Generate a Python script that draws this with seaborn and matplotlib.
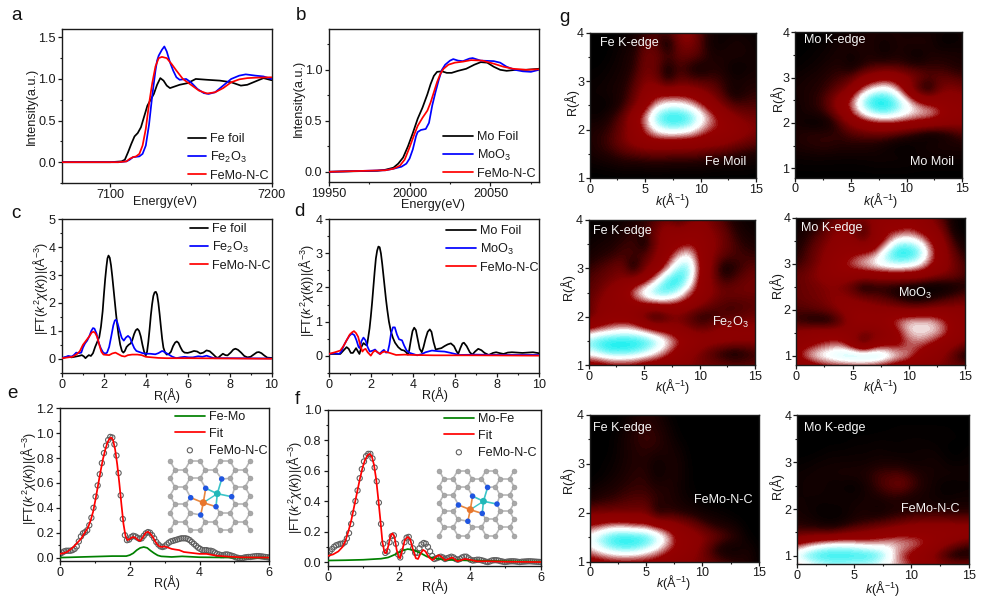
import numpy as np
import matplotlib
matplotlib.use("Agg")
import matplotlib.pyplot as plt
import seaborn as sns
from matplotlib.colors import LinearSegmentedColormap
from matplotlib.ticker import MultipleLocator, FixedLocator

sns.set_theme(style="ticks")
plt.rcParams.update({
    "font.family": ["Liberation Sans", "DejaVu Sans"],
    "mathtext.fontset": "custom",
    "mathtext.rm": "Liberation Sans",
    "mathtext.it": "Liberation Sans:italic",
    "mathtext.bf": "Liberation Sans:bold",
    "axes.linewidth": 1.0,
    "axes.edgecolor": "#1a1a1a",
    "xtick.color": "#1a1a1a",
    "ytick.color": "#1a1a1a",
    "text.color": "#1a1a1a",
    "axes.labelcolor": "#1a1a1a",
})

# ---------- panel a ----------
a_foil_x = [7070, 7100, 7107, 7109, 7111, 7113, 7115, 7117, 7119, 7121, 7123, 7125, 7127, 7129, 7131, 7133, 7135, 7137, 7140, 7143, 7148, 7153, 7160, 7168, 7175, 7178, 7181, 7185, 7190, 7195, 7200]
a_foil_y = [0, 0, .01, .03, .12, .22, .31, .35, .42, .55, .68, .75, .82, .93, 1.01, .98, .92, .89, .91, .93, .95, 1.0, .99, .98, .96, .94, .92, .93, .97, 1.01, .985]
a_fe2o3_x = [7070, 7105, 7110, 7112, 7114, 7118, 7120, 7122, 7124, 7126, 7128, 7129, 7130, 7132, 7133.5, 7135, 7137, 7139, 7141, 7143, 7147, 7150, 7154, 7158, 7161, 7165, 7170, 7175, 7180, 7184, 7190, 7195, 7200]
a_fe2o3_y = [0, 0, .01, .03, .06, .07, .1, .2, .45, .8, 1.1, 1.22, 1.28, 1.35, 1.39, 1.33, 1.2, 1.1, 1.02, .99, 1.0, .96, .88, .83, .82, .84, .92, 1.0, 1.04, 1.055, 1.04, 1.03, 1.0]
a_femo_x = [7070, 7105, 7110, 7112, 7114, 7116, 7118, 7120, 7122, 7124, 7126, 7128, 7130, 7132, 7135, 7138, 7141, 7145, 7150, 7155, 7160, 7165, 7170, 7175, 7180, 7185, 7190, 7200]
a_femo_y = [0, 0, .01, .04, .06, .07, .1, .2, .4, .7, .95, 1.15, 1.25, 1.265, 1.25, 1.18, 1.1, 1.0, .93, .86, .825, .84, .89, .96, .995, 1.01, 1.015, 1.02]

# ---------- panel b ----------
b_foil_x = [19950, 19980, 19985, 19990, 19993, 19996, 19999, 20002, 20005, 20008, 20011, 20013, 20015, 20017, 20020, 20023, 20026, 20030, 20035, 20040, 20044, 20048, 20052, 20056, 20060, 20066, 20072, 20080]
b_foil_y = [0, .01, .02, .04, .08, .14, .25, .38, .52, .63, .76, .86, .94, .98, .985, .97, .97, .99, 1.01, 1.05, 1.075, 1.07, 1.03, 1.0, .99, 1.0, 1.0, 1.01]
b_moo3_x = [19950, 19985, 19990, 19995, 19998, 20000, 20002, 20004, 20005, 20007, 20010, 20012, 20014, 20016, 20018, 20020, 20022, 20025, 20027, 20030, 20033, 20037, 20039, 20044, 20052, 20056, 20060, 20065, 20070, 20075, 20080]
b_moo3_y = [0, .015, .03, .05, .08, .13, .22, .35, .39, .41, .42, .48, .65, .78, .9, 1.0, 1.05, 1.09, 1.105, 1.09, 1.085, 1.11, 1.115, 1.09, 1.085, 1.07, 1.03, 1.0, .985, .98, 1.0]
b_femo_x = [19950, 19985, 19990, 19994, 19997, 20000, 20003, 20005, 20008, 20011, 20013, 20015, 20017, 20019, 20021, 20024, 20028, 20033, 20038, 20045, 20052, 20058, 20064, 20072, 20080]
b_femo_y = [0, .015, .03, .06, .12, .24, .37, .45, .53, .6, .68, .78, .88, .96, 1.01, 1.05, 1.07, 1.08, 1.095, 1.09, 1.06, 1.03, 1.01, 1.0, 1.005]

# ---------- panel c ----------
c_foil_x = [0, .15, .3, .45, .6, .8, .95, 1.05, 1.12, 1.2, 1.28, 1.38, 1.48, 1.58, 1.68, 1.78, 1.86, 1.94, 2.0, 2.06, 2.12, 2.17, 2.22, 2.28, 2.34, 2.4, 2.46, 2.52, 2.58, 2.64, 2.7, 2.78, 2.86, 2.93, 3.0, 3.08, 3.18, 3.28, 3.36, 3.44, 3.52, 3.6, 3.68, 3.76, 3.84, 3.92, 4.0, 4.06, 4.12, 4.18, 4.24, 4.3, 4.36, 4.42, 4.48, 4.54, 4.6, 4.66, 4.72, 4.78, 4.84, 4.92, 5.0, 5.1, 5.2, 5.3, 5.4, 5.48, 5.56, 5.65, 5.75, 5.85, 6.0, 6.15, 6.3, 6.45, 6.6, 6.75, 6.9, 7.05, 7.2, 7.35, 7.45, 7.55, 7.68, 7.8, 7.9, 8.05, 8.18, 8.28, 8.4, 8.55, 8.7, 8.85, 9.0, 9.15, 9.3, 9.4, 9.52, 9.65, 9.8, 10]
c_foil_y = [.02, .05, .08, .05, .07, .1, .13, .08, .02, .08, .13, .1, .2, .42, .6, .78, 1.15, 1.7, 2.3, 2.85, 3.3, 3.6, 3.7, 3.62, 3.35, 2.95, 2.5, 2.05, 1.6, 1.2, .85, .5, .28, .22, .28, .42, .5, .55, .68, .88, 1.02, 1.07, 1.0, .8, .5, .25, .12, .25, .6, 1.05, 1.55, 1.95, 2.25, 2.38, 2.4, 2.3, 2.0, 1.6, 1.15, .72, .4, .22, .15, .17, .25, .45, .58, .62, .57, .42, .28, .22, .21, .24, .28, .26, .19, .22, .3, .27, .17, .06, .03, .1, .18, .13, .12, .22, .33, .36, .32, .22, .1, .05, .07, .15, .23, .24, .2, .12, .04, .03]
c_fe2o3_x = [0, .15, .3, .45, .55, .68, .8, .92, 1.0, 1.1, 1.2, 1.3, 1.4, 1.48, 1.55, 1.65, 1.75, 1.85, 1.95, 2.05, 2.15, 2.25, 2.35, 2.45, 2.52, 2.58, 2.65, 2.75, 2.85, 2.95, 3.05, 3.15, 3.25, 3.35, 3.45, 3.55, 3.7, 3.85, 4.0, 4.2, 4.45, 4.6, 4.78, 4.9, 5.05, 5.25, 5.45, 5.65, 5.85, 6.05, 6.25, 6.5, 6.7, 6.9, 7.05, 7.25, 8, 10]
c_fe2o3_y = [.03, .06, .1, .08, .12, .22, .2, .22, .4, .55, .65, .8, 1.0, 1.1, 1.08, .9, .58, .38, .24, .18, .22, .42, .8, 1.2, 1.37, 1.4, 1.28, 1.0, .75, .65, .76, .82, .75, .55, .38, .28, .24, .2, .18, .18, .16, .2, .28, .24, .17, .08, .02, .05, .07, .05, .05, .09, .07, .11, .07, .02, .02, .01]
c_femo_x = [0, .3, .5, .7, .85, 1.0, 1.15, 1.3, 1.42, 1.5, 1.58, 1.68, 1.78, 1.88, 1.98, 2.1, 2.25, 2.4, 2.55, 2.7, 2.85, 3.0, 3.15, 3.35, 3.6, 3.8, 4.0, 4.3, 4.6, 5, 6, 8, 10]
c_femo_y = [.02, .05, .07, .16, .27, .5, .65, .8, .94, .97, .93, .78, .5, .25, .15, .14, .13, .19, .22, .16, .1, .08, .13, .15, .15, .13, .07, .05, .03, .02, .02, .01, 0]

# ---------- panel d ----------
d_foil_x = [0, .3, .55, .7, .85, .95, 1.05, 1.15, 1.3, 1.38, 1.46, 1.55, 1.65, 1.75, 1.82, 1.88, 1.94, 2.0, 2.06, 2.12, 2.18, 2.24, 2.3, 2.36, 2.42, 2.48, 2.54, 2.6, 2.66, 2.72, 2.78, 2.86, 2.95, 3.05, 3.15, 3.3, 3.45, 3.58, 3.68, 3.76, 3.82, 3.9, 3.98, 4.06, 4.14, 4.22, 4.32, 4.42, 4.5, 4.6, 4.7, 4.8, 4.88, 4.98, 5.08, 5.2, 5.35, 5.5, 5.65, 5.8, 5.95, 6.05, 6.15, 6.25, 6.35, 6.42, 6.55, 6.7, 6.82, 6.95, 7.1, 7.25, 7.4, 7.6, 7.8, 7.95, 8.15, 8.3, 8.5, 8.7, 9.2, 9.7, 10]
d_foil_y = [.05, .05, .05, .15, .25, .2, .08, .08, .22, .13, .05, .25, .37, .32, .3, .55, .8, 1.15, 1.55, 2.0, 2.45, 2.85, 3.08, 3.2, 3.18, 3.0, 2.7, 2.35, 2.0, 1.65, 1.35, 1.0, .72, .52, .38, .25, .17, .15, .1, .03, .15, .45, .72, .82, .75, .5, .2, .1, .25, .5, .7, .77, .7, .4, .18, .2, .22, .28, .33, .36, .28, .15, .05, .22, .36, .38, .28, .1, .03, .12, .2, .16, .08, .02, .08, .1, .07, .05, .09, .1, .08, .1, .07]
d_moo3_x = [0, .3, .5, .6, .72, .85, .98, 1.1, 1.22, 1.32, 1.42, 1.48, 1.55, 1.65, 1.75, 1.85, 1.95, 2.1, 2.2, 2.32, 2.42, 2.52, 2.62, 2.72, 2.8, 2.88, 2.96, 3.05, 3.14, 3.24, 3.34, 3.48, 3.58, 3.7, 3.85, 4.0, 4.2, 4.4, 4.6, 4.9, 5.2, 5.5, 5.8, 6.2, 7, 8, 10]
d_moo3_y = [.05, .07, .05, .12, .3, .45, .58, .65, .6, .45, .25, .22, .42, .53, .45, .25, .12, .15, .18, .1, .05, .12, .17, .09, .1, .32, .65, .83, .83, .62, .48, .45, .3, .15, .08, .05, .01, .04, .1, .15, .13, .12, .08, .02, .03, .02, .02]
d_femo_x = [0, .3, .55, .7, .85, 1.0, 1.1, 1.2, 1.3, 1.4, 1.5, 1.6, 1.68, 1.75, 1.85, 2.0, 2.1, 2.2, 2.32, 2.45, 2.55, 2.65, 2.78, 2.9, 3.2, 3.6, 4, 5, 7, 10]
d_femo_y = [.05, .1, .15, .28, .45, .62, .68, .72, .66, .55, .3, .12, .18, .2, .1, 0, .1, .15, .1, .05, .1, .12, .1, .08, .02, .03, .02, .01, .01, 0]

# ---------- panel e ----------
e_data_y = [.03, .04, .05, .055, .055, .055, .06, .07, .09, .13, .17, .195, .205, .22, .26, .32, .40, .49, .58, .67, .76, .84, .90, .945, .97, .965, .91, .82, .68, .50, .31, .18, .14, .145, .165, .175, .17, .16, .15, .155, .175, .195, .205, .2, .18, .155, .125, .105, .09, .085, .09, .105, .12, .13, .135, .14, .145, .15, .155, .155, .155, .15, .14, .125, .11, .095, .08, .07, .06, .06, .06, .055, .055, .05, .04, .03, .025, .02, .02, .025, .025, .02, .015, .01, .002, -.002, -.005, -.005, 0, .003, .005, .005, .008, .01, .012, .012, .01, .008, .005, .003, 0]
e_data_x = [round(i * .06, 2) for i in range(len(e_data_y))]
e_fit_x = [0, .1, .2, .3, .4, .5, .6, .7, .8, .88, .95, 1.02, 1.09, 1.16, 1.23, 1.3, 1.36, 1.42, 1.47, 1.52, 1.58, 1.64, 1.7, 1.76, 1.82, 1.88, 1.94, 2.0, 2.08, 2.16, 2.24, 2.3, 2.38, 2.46, 2.52, 2.58, 2.66, 2.74, 2.82, 2.9, 3.0, 3.1, 3.2, 3.3, 3.42, 3.55, 3.7, 3.85, 4.0, 4.2, 4.35, 4.5, 4.8, 5.2, 6]
e_fit_y = [.03, .035, .045, .065, .09, .12, .15, .195, .24, .3, .37, .47, .58, .69, .79, .87, .925, .955, .965, .945, .87, .75, .6, .43, .27, .17, .14, .15, .165, .16, .14, .135, .165, .2, .208, .195, .165, .125, .095, .085, .09, .08, .07, .065, .06, .045, .04, .035, .03, .03, .022, .015, .008, .002, 0]
e_path_x = [0, 1, 1.5, 1.9, 2.0, 2.1, 2.2, 2.3, 2.4, 2.5, 2.6, 2.7, 2.8, 2.9, 3.2, 3.5, 4, 5, 6]
e_path_y = [0, .008, .012, .012, .02, .035, .06, .078, .085, .078, .055, .035, .018, .01, .005, .01, .003, 0, 0]

# ---------- panel f ----------
f_data_y = [.05, .07, .085, .1, .11, .115, .12, .12, .13, .155, .19, .25, .32, .4, .47, .55, .61, .66, .695, .71, .71, .68, .62, .53, .39, .25, .12, .06, .07, .13, .17, .175, .12, .05, .03, .07, .13, .16, .165, .13, .09, .06, .06, .09, .115, .125, .12, .1, .07, .04, .02, .025, .03, .035, .03, .02, .025, .03, .035, .03, .02, .015, .02, .03, .035, .035, .025, .015, .01, .012, .015, .015, .012, .008, .003, 0, .004, .01, .012, .012, .01, .006, .003, 0, .002, .004, .005, .005, .004, .002, 0, .002, .003, .004, .005, .005, .004, .003, .002, .001, 0]
f_data_x = [round(i * .06, 2) for i in range(len(f_data_y))]
f_fit_x = [0, .15, .3, .42, .5, .58, .66, .74, .82, .9, .98, 1.05, 1.12, 1.18, 1.24, 1.3, 1.36, 1.42, 1.48, 1.54, 1.6, 1.65, 1.71, 1.77, 1.82, 1.88, 1.94, 2.0, 2.04, 2.1, 2.17, 2.25, 2.32, 2.4, 2.48, 2.54, 2.6, 2.68, 2.75, 2.85, 2.95, 3.05, 3.12, 3.2, 3.3, 3.4, 3.5, 3.65, 3.85, 4, 4.2, 4.5, 5, 6]
f_fit_y = [.04, .05, .07, .1, .14, .2, .27, .36, .45, .54, .62, .67, .7, .71, .695, .64, .55, .42, .28, .13, .06, .06, .11, .175, .188, .165, .08, .03, .025, .08, .145, .165, .15, .08, .025, .02, .05, .08, .07, .03, .012, .035, .045, .035, .012, .02, .03, .005, .02, .015, .005, .005, .002, 0]
f_path_x = [0, .5, 1, 1.5, 1.7, 1.9, 2.1, 2.25, 2.4, 2.6, 2.8, 3, 3.3, 4, 5, 6]
f_path_y = [.01, .012, .015, .022, .03, .05, .075, .085, .08, .06, .035, .025, .015, .01, .005, .002]

# ---------- panel g : intensity read on a coarse k / R grid (rows: R high -> low) ----------
k_grid = [0, 1, 2, 3, 4, 5, 6, 7, 8, 9, 10, 11, 12, 13, 14, 15]
map_fe_foil = [
 [0, 0, 0, .02, .06, .15, .2, .2, .35, .4, .2, .08, .05, .05, .05, .02],
 [0, 0, .02, .05, .1, .25, .22, .02, .3, .35, .2, .05, .05, .1, .08, .05],
 [0, 0, .03, .08, .12, .3, .28, .18, .25, .25, .2, .1, .1, .1, .08, .06],
 [.01, .02, .05, .08, .15, .3, .25, .05, .2, .1, .05, .12, .1, .01, .05, .08],
 [.03, .04, .07, .1, .2, .35, .3, .1, .25, .22, .2, .2, .15, .08, .1, .1],
 [.05, .06, .08, .12, .25, .42, .5, .5, .5, .48, .4, .3, .18, .05, .12, .15],
 [.03, .01, .05, .15, .3, .5, .7, .78, .78, .72, .6, .45, .3, .2, .2, .2],
 [.05, .05, .15, .25, .5, .68, .92, 1, 1, .95, .8, .65, .5, .38, .3, .3],
 [.1, .12, .18, .3, .45, .62, .78, .85, .85, .8, .68, .58, .55, .5, .4, .35],
 [.1, .15, .22, .32, .42, .5, .52, .52, .5, .5, .48, .45, .42, .35, .3, .25],
 [.08, .12, .15, .2, .22, .25, .25, .25, .25, .25, .22, .2, .18, .15, .12, .1],
 [.03, .04, .06, .08, .08, .08, .1, .08, .08, .08, .08, .06, .05, .05, .05, .03],
 [0, 0, 0, 0, 0, 0, 0, 0, 0, 0, 0, 0, 0, 0, 0, 0],
]
map_mo_foil = [
 [0, 0, 0, .02, .05, .05, .08, .1, .1, .1, .08, .08, .08, .05, .05, .05],
 [0, 0, .02, .05, .08, .12, .12, .1, .05, .1, .1, .12, .1, .03, .03, .05],
 [0, .02, .04, .06, .1, .05, .1, .1, .05, .1, .08, .01, .1, .1, .1, .08],
 [.02, .04, .06, .1, .12, .05, .12, .18, .2, .2, .15, .15, .15, .15, .12, .1],
 [.05, .08, .1, .14, .18, .22, .38, .46, .52, .48, .4, .3, .22, .25, .22, .18],
 [.08, .1, .12, .18, .25, .4, .62, .74, .8, .7, .45, .15, .05, .3, .35, .3],
 [.06, .1, .15, .25, .45, .62, .86, 1, 1, .92, .74, .55, .45, .45, .42, .4],
 [.05, .1, .12, .22, .4, .6, .78, .9, .95, .88, .8, .74, .72, .62, .5, .45],
 [.08, .03, .01, .05, .2, .38, .5, .55, .58, .58, .55, .52, .5, .45, .42, .4],
 [.1, .14, .15, .15, .15, .2, .22, .25, .25, .2, .15, .08, .02, .05, .12, .2],
 [.1, .12, .14, .15, .12, .12, .12, .1, .06, .02, .01, .05, .08, .1, .1, .1],
 [.05, .05, .06, .05, .05, .05, .05, .06, .06, .06, .05, .05, .05, .05, .05, .05],
 [.02, .02, .02, .02, .02, .02, .02, .03, .03, .03, .03, .02, .02, .02, .02, .02],
 [0, 0, 0, 0, 0, 0, 0, 0, 0, 0, 0, 0, 0, 0, 0, 0],
]
map_fe_oxide = [
 [.02, .02, .03, .06, .1, .15, .2, .3, .15, .3, .35, .3, .2, .1, .05, .03],
 [.02, .04, .06, .1, .15, .15, .3, .45, .42, .45, .45, .35, .28, .15, .08, .05],
 [.05, .08, .1, .15, .18, .05, .3, .45, .5, .55, .5, .4, .3, .2, .12, .1],
 [.08, .12, .15, .2, .18, .2, .35, .5, .68, .78, .5, .38, .25, .2, .18, .15],
 [.15, .2, .25, .3, .02, .3, .42, .62, .88, .9, .55, .35, .05, .1, .2, .25],
 [.2, .25, .3, .35, .4, .48, .7, .95, 1.0, .85, .5, .35, .15, .2, .28, .3],
 [.22, .3, .42, .5, .68, .85, .95, .95, .85, .65, .48, .38, .3, .3, .3, .3],
 [.25, .38, .42, .45, .5, .55, .6, .6, .55, .48, .38, .28, .2, .18, .2, .22],
 [.22, .4, .45, .45, .4, .22, .05, .2, .3, .2, .1, .12, .2, .2, .25, .28],
 [.55, .6, .65, .7, .68, .6, .5, .45, .4, .32, .25, .32, .4, .4, .4, .4],
 [.9, .98, 1, 1, 1, .98, .9, .78, .62, .55, .48, .45, .45, .42, .4, .4],
 [.8, .88, .95, .95, .92, .85, .75, .62, .48, .4, .3, .18, .08, .03, .08, .15],
 [.45, .45, .5, .5, .5, .45, .45, .42, .4, .35, .3, .3, .28, .25, .25, .25],
]
map_mo_oxide = [
 [.02, .05, .08, .2, .3, .35, .35, .4, .45, .48, .5, .45, .35, .2, .05, .02],
 [.05, .1, .15, .3, .35, .3, .15, .42, .55, .5, .55, .5, .42, .3, .05, .01],
 [.08, .15, .25, .35, .42, .4, .25, .42, .55, .78, .8, .72, .55, .4, .15, .05],
 [.1, .2, .3, .4, .45, .5, .55, .58, .85, 1, 1, .92, .65, .45, .25, .1],
 [.15, .22, .32, .45, .55, .65, .72, .8, .85, .88, .85, .78, .6, .45, .3, .18],
 [.25, .3, .38, .45, .5, .48, .48, .48, .5, .5, .5, .48, .4, .35, .3, .2],
 [.25, .28, .3, .35, .3, .2, .02, .1, .1, .08, .05, .02, 0, 0, .05, .1],
 [.25, .28, .3, .35, .4, .35, .3, .25, .2, .12, .05, .04, .08, .15, .2, .25],
 [.2, .22, .25, .3, .4, .45, .45, .42, .4, .38, .35, .35, .38, .4, .4, .4],
 [.15, .08, .05, .05, .2, .45, .5, .5, .55, .65, .72, .72, .72, .62, .5, .4],
 [.4, .45, .48, .48, .45, .4, .3, .3, .4, .52, .7, .74, .72, .66, .5, .42],
 [.45, .5, .55, .6, .62, .42, .15, .42, .5, .5, .6, .62, .55, .45, .4, .3],
 [.55, .7, .8, .85, .92, .98, 1, .98, .88, .75, .68, .5, .42, .38, .2, .05],
 [.35, .4, .45, .5, .5, .5, .5, .48, .45, .42, .4, .35, .35, .3, .3, .3],
]
map_fe_femo = [
 [0, 0, 0, .02, .08, .12, .1, .02, 0, 0, 0, 0, 0, 0, 0, 0],
 [0, 0, 0, .05, .12, .15, .12, .06, 0, 0, 0, 0, 0, 0, 0, 0],
 [0, 0, .02, .08, .14, .18, .15, .08, .02, 0, 0, 0, 0, 0, 0, 0],
 [0, 0, .02, .08, .12, .14, .12, .1, .06, 0, 0, 0, 0, 0, 0, 0],
 [0, .01, .04, .08, .12, .12, .03, .1, .08, .01, 0, 0, 0, 0, 0, 0],
 [0, .02, .06, .1, .14, .14, .04, .1, .08, .01, 0, 0, 0, 0, 0, 0],
 [.04, .08, .1, .14, .16, .16, .12, .12, .06, .02, 0, 0, 0, 0, 0, 0],
 [.1, .14, .16, .2, .22, .22, .14, .12, .08, .04, .01, 0, 0, 0, 0, 0],
 [.3, .3, .3, .3, .3, .3, .08, .15, .12, .1, .06, .05, .02, 0, 0, 0],
 [.55, .6, .65, .65, .6, .6, .5, .45, .38, .3, .2, .12, .1, .06, 0, 0],
 [.8, .9, .98, 1, 1, .98, .88, .72, .5, .45, .38, .3, .22, .15, .03, 0],
 [.7, .8, .88, .92, .9, .82, .72, .6, .5, .42, .3, .12, .02, .03, .1, .02],
 [.45, .48, .5, .5, .5, .5, .48, .42, .38, .35, .3, .25, .2, .15, .12, .02],
]
map_mo_femo = [
 [0, 0, 0, 0, 0, 0, 0, 0, 0, 0, 0, 0, 0, 0, 0, 0],
 [0, 0, 0, 0, 0, 0, 0, 0, .01, .02, .02, .02, .02, .02, .01, 0],
 [0, 0, 0, 0, 0, .02, .02, .03, .03, .03, .03, .03, .02, .02, .02, .01],
 [0, 0, .01, .03, .03, .04, .04, .05, .04, .03, .05, .05, .05, .01, 0, .02],
 [.02, .03, .05, .06, .06, .06, .06, .08, .08, .08, .04, .06, .08, .04, .02, .05],
 [.05, .06, .08, .08, .1, .1, .12, .18, .2, .2, .16, .1, .08, .08, .08, .06],
 [.05, .08, .08, .04, .04, .02, .08, .18, .24, .3, .2, .12, .06, .02, .02, .04],
 [.06, .06, .06, .06, .06, .05, .08, .1, .14, .12, .1, .08, .06, .04, .06, .06],
 [.08, .06, .03, .04, .04, .08, .1, .04, .08, .1, .08, .1, .1, .1, .1, .1],
 [.1, .08, .04, .02, .04, .1, .12, .15, .18, .22, .28, .3, .3, .3, .28, .28],
 [.2, .2, .2, .18, .25, .3, .35, .4, .45, .5, .5, .5, .5, .5, .5, .5],
 [.55, .65, .72, .78, .78, .75, .7, .7, .72, .7, .68, .62, .5, .4, .3, .2],
 [.85, .95, 1, 1, 1, 1, 1, .95, .82, .6, .5, .42, .3, .12, .02, .05],
 [.6, .7, .75, .8, .8, .78, .78, .75, .7, .68, .6, .5, .42, .4, .4, .4],
]

# ---------- labels ----------
lab_a = ["Fe foil", "Fe$_2$O$_3$", "FeMo-N-C"]
lab_b = ["Mo Foil", "MoO$_3$", "FeMo-N-C"]
lab_e = ["Fe-Mo", "Fit", "FeMo-N-C"]
lab_f = ["Mo-Fe", "Fit", "FeMo-N-C"]
ft_label = r"|FT($k^2\chi(k)$)|(Å$^{-3}$)"
k_label = r"$k$(Å$^{-1}$)"
r_label = "R(Å)"

# ---------- schematic inset : atoms of the model (units of one bond length) ----------
lat_rows_even = [0, 2, 3, 5, 6, 8]
lat_rows_odd = [.5, 1.5, 3.5, 4.5, 6.5, 7.5]
n_sites = [(5.17, 1.8), (3.57, 2.73), (2.07, 3.67), (6.17, 3.57), (4.6, 4.57), (3.07, 5.4)]
fe_site = (3.33, 4.17)
mo_site = (4.73, 3.27)
fe_bonds = [1, 2, 4, 5]
mo_bonds = [0, 1, 3, 4]

W, H = 985, 606
fs = 9.1
fig = plt.figure(figsize=(W / 100, H / 100), dpi=100, facecolor="white")
over = fig.add_axes([0, 0, 1, 1], zorder=20)
over.set_xlim(0, W); over.set_ylim(H, 0); over.axis("off")
px = over.transData


def make_ax(x0, x1, y0, y1):
    ax = fig.add_axes([x0 / W, 1 - y1 / H, (x1 - x0) / W, (y1 - y0) / H])
    ax.tick_params(which="major", direction="out", length=3, width=.9, labelsize=fs, pad=1.5)
    ax.tick_params(which="minor", direction="out", length=1.7, width=.8)
    return ax


def label(ax, xl, xc, yl, yc):
    ax.set_xlabel(xl, fontsize=fs, ha="center", va="center")
    ax.set_ylabel(yl, fontsize=fs, ha="center", va="center")
    ax.xaxis.set_label_coords(xc[0], xc[1], transform=px)
    ax.yaxis.set_label_coords(yc[0], yc[1], transform=px)


def curve(ax, x, y, c, lab, lw=1.25):
    sns.lineplot(x=x, y=y, ax=ax, color=c, label=lab, lw=lw, estimator=None, sort=False, errorbar=None, zorder=3)


def legend(ax, x, y, hl):
    leg = ax.legend(loc="upper left", bbox_to_anchor=(x, y), bbox_transform=px, frameon=False, fontsize=fs,
                    borderaxespad=0, borderpad=0, handlelength=hl, handletextpad=.35, labelspacing=.38)
    return leg


# a
ax = make_ax(62, 271.5, 29, 183)
curve(ax, a_foil_x, a_foil_y, "black", lab_a[0])
curve(ax, a_fe2o3_x, a_fe2o3_y, "#0000ff", lab_a[1])
curve(ax, a_femo_x, a_femo_y, "#ff0000", lab_a[2])
ax.set_xlim(7070, 7200); ax.set_ylim(-.25, 1.6)
ax.xaxis.set_major_locator(FixedLocator([7100, 7200])); ax.xaxis.set_minor_locator(MultipleLocator(50))
ax.yaxis.set_major_locator(FixedLocator([0, .5, 1, 1.5])); ax.yaxis.set_minor_locator(MultipleLocator(.25))
label(ax, "Energy(eV)", (165, 202), "Intensity(a.u.)", (32, 106))
legend(ax, 188, 133, 1.4)

# b
ax = make_ax(328.7, 539, 29, 182)
curve(ax, b_foil_x, b_foil_y, "black", lab_b[0])
curve(ax, b_moo3_x, b_moo3_y, "#0000ff", lab_b[1])
curve(ax, b_femo_x, b_femo_y, "#ff0000", lab_b[2])
ax.set_xlim(19950, 20080); ax.set_ylim(-.1, 1.4)
ax.xaxis.set_major_locator(FixedLocator([19950, 20000, 20050])); ax.xaxis.set_minor_locator(MultipleLocator(25))
ax.yaxis.set_major_locator(FixedLocator([0, .5, 1])); ax.yaxis.set_minor_locator(MultipleLocator(.25))
label(ax, "Energy(eV)", (433, 205), "Intensity(a.u.)", (299, 98))
legend(ax, 443, 131, 2.35)

# c
ax = make_ax(62, 271.5, 219.3, 372.7)
curve(ax, c_foil_x, c_foil_y, "black", lab_a[0])
curve(ax, c_fe2o3_x, c_fe2o3_y, "#0000ff", lab_a[1])
curve(ax, c_femo_x, c_femo_y, "#ff0000", lab_a[2])
ax.set_xlim(0, 10); ax.set_ylim(-.5, 5)
ax.xaxis.set_major_locator(MultipleLocator(2)); ax.xaxis.set_minor_locator(MultipleLocator(1))
ax.yaxis.set_major_locator(FixedLocator([0, 1, 2, 3, 4, 5])); ax.yaxis.set_minor_locator(MultipleLocator(.5))
label(ax, r_label, (167, 396), ft_label, (41, 288))
legend(ax, 190, 223, 1.4)

# d
ax = make_ax(328.7, 539.3, 219.3, 372.7)
curve(ax, d_foil_x, d_foil_y, "black", lab_b[0])
curve(ax, d_moo3_x, d_moo3_y, "#0000ff", lab_b[1])
curve(ax, d_femo_x, d_femo_y, "#ff0000", lab_b[2])
ax.set_xlim(0, 10); ax.set_ylim(-.5, 4)
ax.xaxis.set_major_locator(MultipleLocator(2)); ax.xaxis.set_minor_locator(MultipleLocator(1))
ax.yaxis.set_major_locator(FixedLocator([0, 1, 2, 3, 4])); ax.yaxis.set_minor_locator(MultipleLocator(.5))
label(ax, r_label, (435, 395), ft_label, (306, 290))
legend(ax, 446, 225, 2.35)


def fit_panel(ax, dx, dy, fx, fy, gx, gy, labs):
    curve(ax, gx, gy, "#008000", labs[0])
    curve(ax, fx, fy, "#ff0000", labs[1])
    sns.scatterplot(x=dx, y=dy, ax=ax, label=labs[2], s=14, facecolor="none", edgecolor="#5f5f5f", linewidth=.8, zorder=2)
    ax.set_xlim(0, 6)
    ax.xaxis.set_major_locator(FixedLocator([0, 2, 4, 6])); ax.xaxis.set_minor_locator(MultipleLocator(1))
    ax.yaxis.set_minor_locator(MultipleLocator(.1))


# e
ax = make_ax(60, 269.3, 408.3, 560.7)
fit_panel(ax, e_data_x, e_data_y, e_fit_x, e_fit_y, e_path_x, e_path_y, lab_e)
ax.set_ylim(-.025, 1.2)
ax.yaxis.set_major_locator(FixedLocator([0, .2, .4, .6, .8, 1.0, 1.2]))
label(ax, r_label, (167, 583), ft_label, (28, 478))
leg = legend(ax, 175, 411, 2.35)

# f
ax = make_ax(327.7, 541, 409.7, 566)
fit_panel(ax, f_data_x, f_data_y, f_fit_x, f_fit_y, f_path_x, f_path_y, lab_f)
ax.set_ylim(-.026, 1.0)
ax.yaxis.set_major_locator(FixedLocator([0, .2, .4, .6, .8, 1.0]))
label(ax, r_label, (435, 587), ft_label, (295, 487))
legend(ax, 444, 413, 2.35)


# molecular model insets
def model(x0, y0, a):
    rows = []
    for i in range(9):
        xs = lat_rows_even if i % 2 == 0 else lat_rows_odd
        for x in xs:
            rows.append((x, i * .866))
    P = np.array(rows) * a + (x0, y0)
    ns = np.array(n_sites) * a + (x0, y0)
    fe = np.array(fe_site) * a + (x0, y0)
    mo = np.array(mo_site) * a + (x0, y0)
    keep = (np.linalg.norm(P - fe, axis=1) > 1.1 * a) & (np.linalg.norm(P - mo, axis=1) > .8 * a)
    for n in ns:
        keep &= np.linalg.norm(P - n, axis=1) > .6 * a
    Pk = P[keep]
    All = np.vstack([Pk, ns])
    for i in range(len(All)):
        for j in range(i + 1, len(All)):
            if np.linalg.norm(All[i] - All[j]) < 1.22 * a:
                over.plot([All[i, 0], All[j, 0]], [All[i, 1], All[j, 1]], color="#b8b8b8", lw=1.2, zorder=1)
    for idx in fe_bonds:
        over.plot([ns[idx, 0], fe[0]], [ns[idx, 1], fe[1]], color="#e8873f", lw=1.2, zorder=2)
    for idx in mo_bonds:
        over.plot([ns[idx, 0], mo[0]], [ns[idx, 1], mo[1]], color="#3cc4c8", lw=1.2, zorder=2)
    over.plot([fe[0], mo[0]], [fe[1], mo[1]], color="#3cc4c8", lw=1.0, zorder=2)
    over.scatter(Pk[:, 0], Pk[:, 1], s=13, color="#a8a8a8", edgecolor="#909090", linewidth=.3, zorder=3)
    over.scatter(ns[:, 0], ns[:, 1], s=16, color="#1f55e0", edgecolor="none", zorder=4)
    over.scatter([fe[0]], [fe[1]], s=26, color="#e8762c", edgecolor="none", zorder=4)
    over.scatter([mo[0]], [mo[1]], s=24, color="#20b8b8", edgecolor="none", zorder=4)


model(170, 461, 10.0)
model(439, 470.5, 9.4)

# heat maps
heat_cmap = LinearSegmentedColormap.from_list(
    "exafs_wt",
    [(0, "#000000"), (.12, "#220000"), (.22, "#580000"), (.36, "#8a0000"), (.56, "#960000"),
     (.74, "#ffffff"), (.8, "#ecffff"), (.98, "#19f0f0"), (1, "#19f0f0")],
    N=64,
)


def wt(ax, grid, bottom):
    Z = np.array(grid, dtype=float)
    r_low = 4 - .25 * (Z.shape[0] - 1)
    ax.imshow(Z, cmap=heat_cmap, vmin=0, vmax=1, interpolation="bicubic", interpolation_stage="data", aspect="auto",
              extent=(k_grid[0] - .5, k_grid[-1] + .5, r_low - .125, 4.125))
    ax.set_xlim(0, 15); ax.set_ylim(bottom, 4)
    ax.xaxis.set_major_locator(FixedLocator([0, 5, 10, 15])); ax.xaxis.set_minor_locator(MultipleLocator(2.5))
    ax.yaxis.set_major_locator(FixedLocator([1, 2, 3, 4])); ax.yaxis.set_minor_locator(MultipleLocator(.5))
    ax.tick_params(which="major", pad=1)


panels = [
    ((589.7, 756, 32.7, 178), map_fe_foil, 1, (672, 200), (572, 102), "Fe K-edge", (629, 43), "Fe Moil", (726, 162)),
    ((795, 962.3, 32.3, 177.7), map_mo_foil, .79, (880, 200), (778, 98), "Mo K-edge", (835, 40), "Mo Moil", (932, 162)),
    ((588.7, 755, 219.7, 365.3), map_fe_oxide, 1, (672, 387), (568, 287), "Fe K-edge", (622, 231), "Fe$_2$O$_3$", (730, 322)),
    ((796.3, 965, 217.7, 365), map_mo_oxide, .8, (880, 387), (777, 285), "Mo K-edge", (832, 228), "MoO$_3$", (915, 293)),
    ((589.7, 758.7, 414.7, 561.7), map_fe_femo, 1, (673, 583), (568, 480), "Fe K-edge", (622, 428), "FeMo-N-C", (723, 500)),
    ((797, 968.7, 415.3, 564.3), map_mo_femo, .82, (882, 588), (777, 486), "Mo K-edge", (835, 428), "FeMo-N-C", (930, 509)),
]
for box, grid, bottom, xc, yc, t1, p1, t2, p2 in panels:
    ax = make_ax(*box)
    wt(ax, grid, bottom)
    label(ax, k_label, xc, r_label, yc)
    over.text(p1[0], p1[1], t1, color="#f4f4f4", fontsize=fs, ha="center", va="center")
    over.text(p2[0], p2[1], t2, color="#f4f4f4", fontsize=fs, ha="center", va="center")

# panel letters
for s, x, y in [("a", 16, 16), ("b", 301, 16), ("c", 16, 213), ("d", 299, 212), ("e", 12, 394), ("f", 297, 400), ("g", 564, 17)]:
    over.text(x, y, s, fontsize=13.5, ha="center", va="center", color="#111111")

fig.savefig("out.png", dpi=100, facecolor="white")
